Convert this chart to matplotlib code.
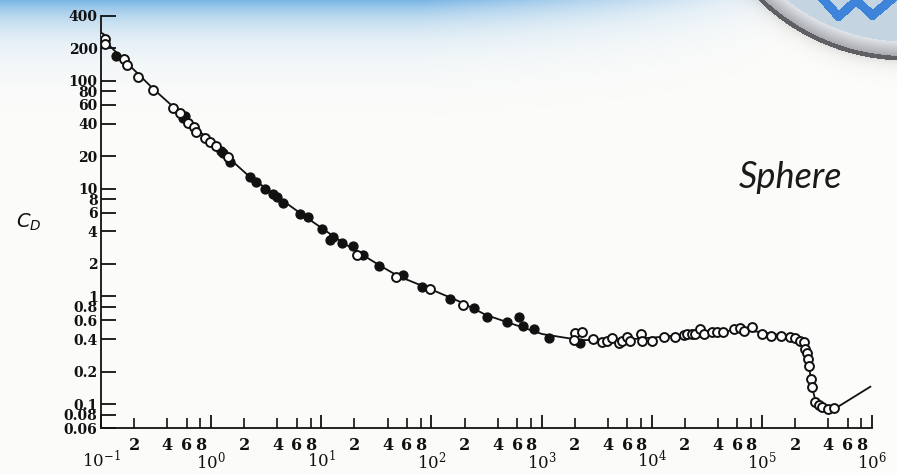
import numpy as np
import matplotlib
matplotlib.use("Agg")
import matplotlib.pyplot as plt
from matplotlib.ticker import FixedLocator, FixedFormatter, NullLocator

# ---- measured drag coefficient of a sphere ----
re_open = [0.098, 0.109, 0.108, 0.163, 0.171, 0.218, 0.299, 0.454, 0.522, 0.621,
           0.700, 0.730, 0.880, 0.977, 1.10, 1.43, 21.0, 47.8, 97.3, 195,
           2020, 2320, 1980, 2960, 3530, 3920, 4350, 5000, 5370, 5960,
           6380, 8040, 8150, 10000, 12800, 16400, 19500, 20900, 23200, 24800,
           27600, 30000, 35200, 39100, 44300, 55400, 62700, 68200, 81300, 100000,
           121000, 149000, 179000, 201000, 220000, 240000, 248000, 257000, 262000, 270000,
           280000, 285000, 306000, 328000, 352000, 396000, 448000]
cd_open = [253, 244, 218, 158, 140, 108, 82, 56, 50, 40.3,
           37.4, 33.2, 29.6, 26.8, 24.9, 19.5, 2.42, 1.50, 1.16, 0.83,
           0.454, 0.470, 0.393, 0.399, 0.379, 0.388, 0.408, 0.371, 0.388, 0.422,
           0.388, 0.447, 0.388, 0.388, 0.422, 0.417, 0.438, 0.447, 0.447, 0.447,
           0.494, 0.447, 0.470, 0.470, 0.470, 0.494, 0.505, 0.480, 0.516, 0.447,
           0.428, 0.428, 0.422, 0.408, 0.388, 0.379, 0.322, 0.296, 0.260, 0.226,
           0.170, 0.145, 0.105, 0.098, 0.0946, 0.0895, 0.0914]

re_filled = [0.136, 0.559, 0.579, 1.23, 1.28, 1.49, 2.25, 2.56, 3.09, 3.67,
             3.99, 4.47, 6.42, 7.54, 10.1, 12.9, 11.9, 15.3, 19.6, 24.1,
             33.7, 55.7, 81.8, 148, 241, 318, 490, 630, 676, 845,
             1160, 2240]
cd_filled = [171, 44.8, 47.1, 22.3, 21.3, 17.5, 12.9, 11.6, 10.0, 8.83,
             8.4, 7.29, 5.80, 5.41, 4.18, 3.57, 3.33, 3.14, 2.93, 2.42,
             1.91, 1.58, 1.23, 0.938, 0.774, 0.639, 0.581, 0.647, 0.530, 0.494,
             0.408, 0.371]

# ---- standard curve ----
re_curve = [0.1, 0.3, 0.5, 1.0, 2.16, 4.0, 6.42, 15.4, 33.5, 50, 97.3, 180, 314,
            500, 1013, 1500, 2244, 5200, 11700, 27600, 63300, 97000, 180000,
            225000, 248000, 265000, 283000, 305600, 353000, 455000, 966000]
cd_curve = [254, 83.8, 52.4, 27.0, 13.3, 8.4, 5.93, 3.19, 1.95, 1.54, 1.17, 0.895, 0.671,
            0.571, 0.447, 0.419, 0.393, 0.393, 0.419, 0.457, 0.487, 0.467, 0.422,
            0.388, 0.318, 0.246, 0.150, 0.109, 0.096, 0.090, 0.145]

y_ticks = [400, 200, 100, 80, 60, 40, 20, 10, 8, 6, 4, 2, 1, 0.8, 0.6, 0.4, 0.2, 0.1, 0.08, 0.06]
y_labels = ["400", "200", "100", "80", "60", "40", "20", "10", "8", "6", "4", "2",
            "1", "0.8", "0.6", "0.4", "0.2", "0.1", "0.08", "0.06"]
decades = [-1, 0, 1, 2, 3, 4, 5, 6]
mantissas = [2, 4, 6, 8]

W, H = 897, 475
plt.rcParams["mathtext.fontset"] = "dejavuserif"
fig = plt.figure(figsize=(W / 100, H / 100), dpi=100)

# ---- slide background: blue haze at top and round badge at top-right ----
yy, xx = np.mgrid[0:H, 0:W].astype(float)
base = np.array([252, 252, 250]) / 255.0
blue = np.array([122, 182, 228]) / 255.0
hfade = np.clip(1.0 - (xx - 420) / 380.0, 0, 1)
w = np.exp(-yy / 24.0) * hfade
bg = base[None, None, :] * (1 - w[..., None]) + blue[None, None, :] * w[..., None]

cx, cy, R = 905.0, -150.0, 208.0
r = np.hypot(xx - cx, yy - cy)
shadow = (r > R + 2) & (r < R + 30)
bg[shadow] *= (1 - 0.10 * np.exp(-(r[shadow] - R - 2) / 7.0))[:, None]
outline = (r >= R - 2.5) & (r <= R + 2)
bg[outline] = np.array([95, 95, 100]) / 255.0
ring = (r >= R - 17) & (r < R - 2.5)
t = ((r[ring] - (R - 17)) / 14.5)[:, None]
bg[ring] = (np.array([225, 228, 232]) * (1 - t) + np.array([170, 172, 178]) * t) / 255.0
inner = r < R - 17
bg[inner] = np.array([196, 212, 224]) / 255.0


def seg_dist(px, py, ax_, ay_, bx_, by_):
    vx, vy = bx_ - ax_, by_ - ay_
    tt = np.clip(((px - ax_) * vx + (py - ay_) * vy) / (vx * vx + vy * vy), 0, 1)
    return np.hypot(px - (ax_ + tt * vx), py - (ay_ + tt * vy))


zig = [(822, -2), (838, 16), (856, 0), (872, 15), (892, -2)]
dmin = np.full((H, W), 1e9)
for (a1, b1), (a2, b2) in zip(zig[:-1], zig[1:]):
    dmin = np.minimum(dmin, seg_dist(xx, yy, a1, b1, a2, b2))
motif = (dmin < 4.5) & inner
bg[motif] = np.array([62, 132, 218]) / 255.0

fig.figimage((np.clip(bg, 0, 1) * 255).astype(np.uint8), xo=0, yo=0,
             origin="upper", zorder=-10)

# ---- axes ----
left, right, top, bottom = 101, 872, 16, 428
ax = fig.add_axes([left / W, 1 - bottom / H, (right - left) / W, (bottom - top) / H])
ax.set_zorder(5)
ax.set_facecolor("none")
ax.set_xscale("log")
ax.set_yscale("log")
ax.set_xlim(0.1, 1e6)
ax.set_ylim(0.06, 400)

ink = "#111111"
ax.plot(re_curve, cd_curve, color=ink, lw=1.3, zorder=2)
ax.plot(re_filled, cd_filled, ls="none", marker="o", ms=6.4, mfc=ink, mec=ink, mew=1.0, zorder=3)
ax.plot(re_open, cd_open, ls="none", marker="o", ms=6.4, mfc="white", mec=ink, mew=1.4, zorder=4)

for s in ("top", "right"):
    ax.spines[s].set_visible(False)
for s in ("left", "bottom"):
    ax.spines[s].set_linewidth(1.3)
    ax.spines[s].set_color(ink)

ax.yaxis.set_major_locator(FixedLocator(y_ticks))
ax.yaxis.set_major_formatter(FixedFormatter(y_labels))
ax.yaxis.set_minor_locator(NullLocator())
ax.tick_params(axis="y", which="major", direction="in", length=10.8, width=1.3,
               color=ink, pad=2.5, labelsize=10, labelcolor=ink)

major_x = [10.0 ** k for k in decades]
minor_x = [m * 10.0 ** k for k in decades[:-1] for m in mantissas]
ax.xaxis.set_major_locator(FixedLocator(major_x))
ax.xaxis.set_major_formatter(FixedFormatter([r"$10^{%d}$" % k for k in decades]))
ax.xaxis.set_minor_locator(FixedLocator(minor_x))
ax.xaxis.set_minor_formatter(FixedFormatter([str(m) for k in decades[:-1] for m in mantissas]))
ax.tick_params(axis="x", which="major", direction="in", length=9.4, width=1.3,
               color=ink, pad=16, labelsize=12, labelcolor=ink)
ax.tick_params(axis="x", which="minor", direction="in", length=7.2, width=1.2,
               color=ink, pad=6.5, labelsize=11.5, labelcolor=ink)

for lab in ax.get_yticklabels() + ax.get_xticklabels(which="minor"):
    lab.set_family("DejaVu Serif")
    lab.set_fontweight("bold")

fig.text(29 / W, 1 - 222 / H, r"$C_D$", ha="center", va="center", fontsize=14,
         color=ink, math_fontfamily="dejavusans", zorder=6)
fig.text(791 / W, 1 - 178 / H, "Sphere", ha="center", va="center", fontsize=26,
         family="Lato", style="italic", color="#1a1a1a", zorder=6)

fig.savefig("out.png", dpi=100)
